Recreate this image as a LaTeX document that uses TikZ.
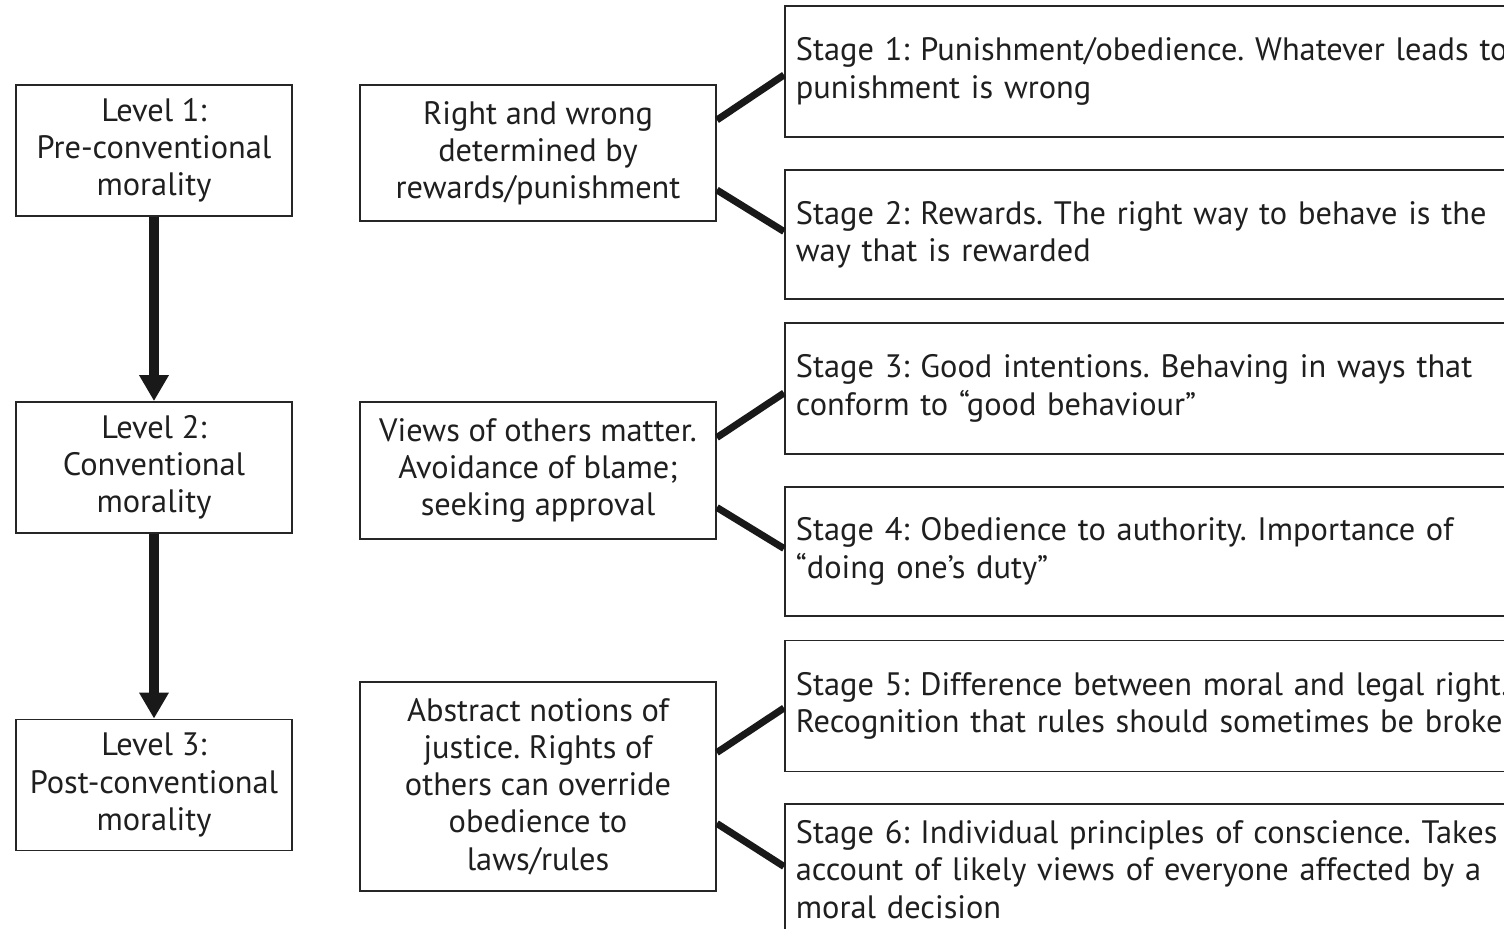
\documentclass[tikz,border=0pt]{standalone}
\usepackage{fontspec}
\setmainfont{PT Sans}
\frenchspacing
\usetikzlibrary{arrows.meta,calc}
\begin{document}
\begin{tikzpicture}[x=0.5pt,y=-0.5pt,
  every node/.style={font=\fontsize{16.2pt}{18.6pt}\selectfont, text=black!88},
  box/.style={draw=black!85, line width=0.9pt, inner sep=0pt},
  levelbox/.style={box, minimum width=138pt, minimum height=65.5pt, align=center},
  midbox/.style={box, minimum width=178pt, align=center},
  stagebox/.style={box, anchor=west, minimum width=380pt, minimum height=65.5pt, text width=369pt, align=left, inner xsep=5.5pt},
  bar/.style={line width=6pt, black!90},
  diag/.style={line width=3.5pt, black!90},
  downarrow/.style={line width=5pt, black!90, -{Triangle[width=14pt,length=13pt]}}]
\useasboundingbox (0,0) rectangle (1504,929);
\clip (0,0) rectangle (1504,929);

\node[levelbox] (l1) at (154,150.5) {Level 1:\\Pre-conventional\\morality};
\node[levelbox] (l2) at (154,467.5) {Level 2:\\Conventional\\morality};
\node[levelbox] (l3) at (154,785) {Level 3:\\Post-conventional\\morality};

\node[midbox, minimum height=68pt] (m1) at (538,153) {Right and wrong\\determined by\\rewards/punishment};
\node[midbox, minimum height=68.5pt] (m2) at (538,470.5) {Views of others matter.\\Avoidance of blame;\\seeking approval};
\node[midbox, minimum height=104.5pt] (m3) at (538,786.5) {Abstract notions of\\justice. Rights of\\others can override\\obedience to\\laws/rules};

\node[stagebox] (s1) at (784,71.5) {Stage 1: Punishment/obedience. Whatever leads to\\punishment is wrong};
\node[stagebox, minimum height=64.5pt] (s2) at (784,234.5) {Stage 2: Rewards. The right way to behave is the\\way that is rewarded};
\node[stagebox] (s3) at (784,388.5) {Stage 3: Good intentions. Behaving in ways that\\conform to “good behaviour”};
\node[stagebox, minimum height=64.5pt] (s4) at (784,551.5) {Stage 4: Obedience to authority. Importance of\\“doing one’s duty”};
\node[stagebox] (s5) at (784,706) {Stage 5: Difference between moral and legal right.\\Recognition that rules should sometimes be broken};
\node[stagebox, minimum height=65.5pt] (s6) at (784,869.5) {Stage 6: Individual principles of conscience. Takes\\account of likely views of everyone affected by a\\moral decision};

% level to middle bars
\draw[bar] ($(l1.east)+(0,1.5)$) -- ($(l1.east)+(0,1.5)$ -| m1.west);
\draw[bar] ($(l2.east)+(0,1.5)$) -- ($(l2.east)+(0,1.5)$ -| m2.west);
\draw[bar] ($(l3.east)+(0,2)$) -- ($(l3.east)+(0,2)$ -| m3.west);

% arrows between levels
\draw[downarrow] (l1.south) -- (l2.north);
\draw[downarrow] (l2.south) -- (l3.north);

% diagonals
\draw[diag] ($(m1.east)+(0,-33)$) -- ($(s1.west)+(0,3.5)$);
\draw[diag] ($(m1.east)+(0,37)$) -- ($(s2.west)+(0,-3)$);
\draw[diag] ($(m2.east)+(0,-33)$) -- ($(s3.west)+(0,4.5)$);
\draw[diag] ($(m2.east)+(0,37)$) -- ($(s4.west)+(0,-3)$);
\draw[diag] ($(m3.east)+(0,-34)$) -- ($(s5.west)+(0,2)$);
\draw[diag] ($(m3.east)+(0,37)$) -- ($(s6.west)+(0,-3)$);
\end{tikzpicture}
\end{document}
